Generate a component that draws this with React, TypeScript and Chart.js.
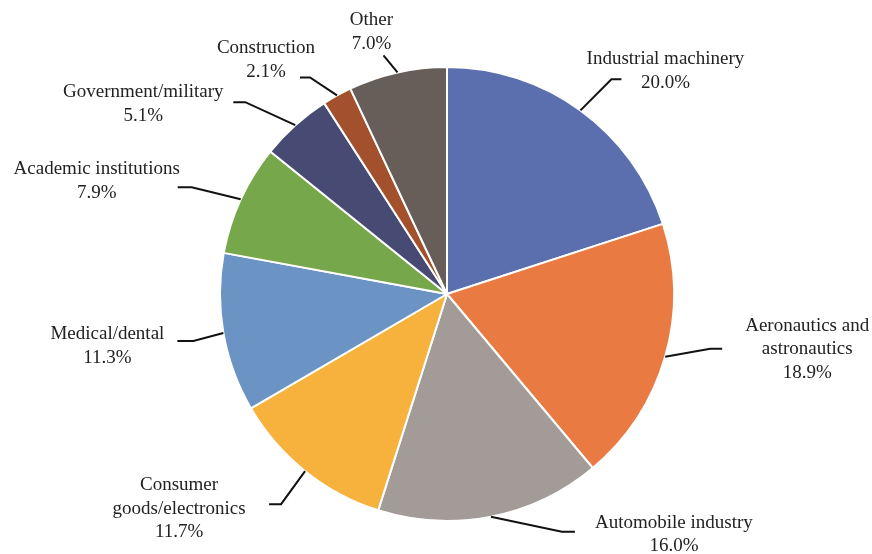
import React, { useEffect, useRef } from "react";
import { Chart, registerables } from "chart.js";

Chart.register(...registerables);

const categories: string[][] = [
  ["Industrial machinery"],
  ["Aeronautics and", "astronautics"],
  ["Automobile industry"],
  ["Consumer", "goods/electronics"],
  ["Medical/dental"],
  ["Academic institutions"],
  ["Government/military"],
  ["Construction"],
  ["Other"],
];

const shares: number[] = [20.0, 18.9, 16.0, 11.7, 11.3, 7.9, 5.1, 2.1, 7.0];

const sliceColors: string[] = [
  "#5B6FAF",
  "#E97A42",
  "#A29B98",
  "#F7B23E",
  "#6B94C4",
  "#77A74B",
  "#474A72",
  "#A3502D",
  "#675E59",
];

// Label layout: elbow offset from slice edge, tail length, text offset from elbow
const labelLayout: { elbow: [number, number]; tail: number; text: [number, number] }[] = [
  { elbow: [31, -31], tail: 10, text: [54, -20] },
  { elbow: [45, -8], tail: 12, text: [97, -23] },
  { elbow: [71, 15], tail: 13, text: [112, -9] },
  { elbow: [-24, 33], tail: -12, text: [-102, -19] },
  { elbow: [-30, 8], tail: -16, text: [-86, -7] },
  { elbow: [-49, -12], tail: -14, text: [-95, -18] },
  { elbow: [-50, -23], tail: -12, text: [-102, -10] },
  { elbow: [-27, -18], tail: -10, text: [-44, -29] },
  { elbow: [-14, -17], tail: 0, text: [-12, -35] },
];

const FONT = "19px 'Liberation Serif', 'Times New Roman', serif";
const LINE_H = 23.5;

const leaderPlugin = {
  id: "leaderLabels",
  afterDraw(chart: any) {
    const ctx = chart.ctx as CanvasRenderingContext2D;
    const meta = chart.getDatasetMeta(0);
    meta.data.forEach((arc: any, i: number) => {
      const { x, y, startAngle, endAngle, outerRadius } = arc.getProps(
        ["x", "y", "startAngle", "endAngle", "outerRadius"],
        true
      );
      const mid = (startAngle + endAngle) / 2;
      const ex = x + Math.cos(mid) * outerRadius;
      const ey = y + Math.sin(mid) * outerRadius;
      const lay = labelLayout[i];
      const bx = ex + lay.elbow[0];
      const by = ey + lay.elbow[1];
      ctx.save();
      ctx.strokeStyle = "#111111";
      ctx.lineWidth = 2;
      ctx.beginPath();
      ctx.moveTo(ex, ey);
      ctx.lineTo(bx, by);
      if (lay.tail !== 0) ctx.lineTo(bx + lay.tail, by);
      ctx.stroke();
      ctx.fillStyle = "#222222";
      ctx.font = FONT;
      ctx.textAlign = "center";
      ctx.textBaseline = "middle";
      const lines = [...categories[i], shares[i].toFixed(1) + "%"];
      const tx = bx + lay.text[0];
      const ty = by + lay.text[1];
      lines.forEach((ln, k) => ctx.fillText(ln, tx, ty + k * LINE_H));
      ctx.restore();
    });
  },
};

export default function App() {
  const ref = useRef<HTMLCanvasElement | null>(null);
  useEffect(() => {
    document.body.style.margin = "0";
    const canvas = ref.current;
    if (!canvas) return;
    const chart = new Chart(canvas, {
      type: "pie",
      data: {
        labels: categories.map((c) => c.join(" ")),
        datasets: [
          {
            data: shares,
            backgroundColor: sliceColors,
            borderColor: "#ffffff",
            borderWidth: 2,
          },
        ],
      },
      options: {
        responsive: false,
        animation: false,
        layout: { padding: { left: 219, right: 197, top: 66, bottom: 32 } },
        plugins: {
          legend: { display: false },
          tooltip: { enabled: false },
        },
      },
      plugins: [leaderPlugin],
    });
    return () => chart.destroy();
  }, []);
  return (
    <div style={{ width: 872, height: 554, background: "#ffffff" }}>
      <canvas ref={ref} width={872} height={554} style={{ display: "block" }} />
    </div>
  );
}
